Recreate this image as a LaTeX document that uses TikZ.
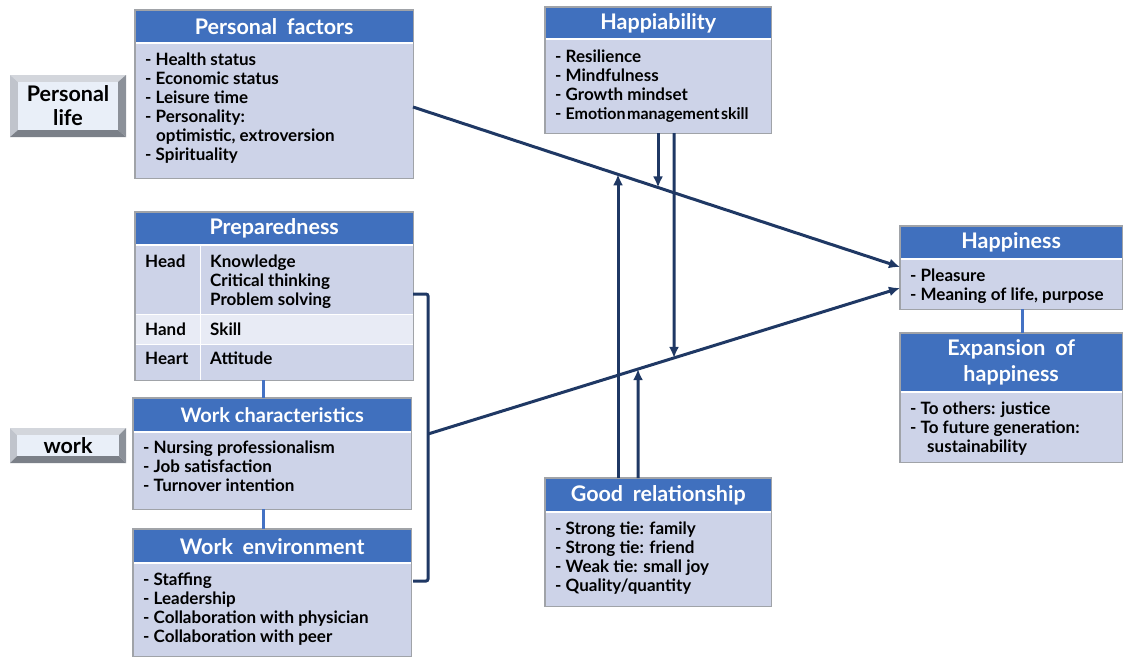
\documentclass[tikz,border=0pt]{standalone}
\usepackage{fontspec}
\setmainfont{Lato}
\usetikzlibrary{arrows.meta}
\definecolor{hblue}{HTML}{4070BE}
\definecolor{bodyc}{HTML}{CDD3E8}
\definecolor{handc}{HTML}{E8EBF5}
\definecolor{boxgray}{HTML}{A0A3A8}
\definecolor{navy}{HTML}{1F3864}
\definecolor{cblue}{HTML}{4472C4}
\definecolor{btop}{HTML}{D3D6DC}
\definecolor{bleft}{HTML}{C0C4CC}
\definecolor{bright}{HTML}{8C9199}
\definecolor{bbot}{HTML}{7B8088}
\definecolor{bface}{HTML}{E9EFF8}
\newcommand\hdrfont{\fontsize{21.5}{26}\selectfont\bfseries}
\newcommand\bodyfont{\fontsize{17}{19}\selectfont\bfseries}
\newcommand\wsp{\hspace{0.45em}}
\begin{document}
\begin{tikzpicture}[x=1pt,y=-1pt,
  hdr/.style={fill=hblue, text=white, font=\hdrfont, anchor=north west, inner sep=0pt, align=center},
  bdy/.style={fill=bodyc, anchor=north west, inner sep=0pt},
  txt/.style={anchor=north west, inner sep=0pt, align=left, font=\bodyfont, text=black},
  frame/.style={draw=boxgray, line width=1.2pt},
  sep/.style={draw=white, line width=2pt},
  arr/.style={draw=navy, line width=3pt, -{Latex[length=11pt,width=10pt]}},
  brk/.style={draw=navy, line width=3pt, rounded corners=2pt},
  link/.style={draw=cblue, line width=3pt},
  btxt/.style={font=\fontsize{21.5}{24}\selectfont\bfseries, align=center, inner sep=0pt}
]
\useasboundingbox (0,0) rectangle (1124,657);

% ---------- buttons ----------
\fill[btop] (10,75) -- (126,75) -- (118,82) -- (18,82) -- cycle;
\fill[bleft] (10,75) -- (18,82) -- (18,130) -- (10,137) -- cycle;
\fill[bright] (126,75) -- (126,137) -- (118,130) -- (118,82) -- cycle;
\fill[bbot] (10,137) -- (126,137) -- (118,130) -- (18,130) -- cycle;
\fill[bface] (18,82) rectangle (118,130);
\node[btxt] (plife) at (68,106) {Personal\\life};

\fill[btop] (10,428) -- (126,428) -- (119,435) -- (17,435) -- cycle;
\fill[bleft] (10,428) -- (17,435) -- (17,456) -- (10,463) -- cycle;
\fill[bright] (126,428) -- (126,463) -- (119,456) -- (119,435) -- cycle;
\fill[bbot] (10,463) -- (126,463) -- (119,456) -- (17,456) -- cycle;
\fill[bface] (17,435) rectangle (119,456);
\node[btxt] (work) at (68,446) {work};

% ---------- Personal factors ----------
\node[bdy, minimum width=278pt, minimum height=135pt] (pfb) at (135,43) {};
\node[hdr, minimum width=278pt, minimum height=33pt] (pfh) at (135,10) {Personal\wsp factors};
\draw[sep] (pfh.south west) -- (pfh.south east);
\draw[frame] (pfh.north west) rectangle (pfb.south east);
\node[txt] (pft) at (145,53) {- Health status\\- Economic status\\- Leisure time\\- Personality:\\\hspace*{11pt}optimistic, extroversion\\- Spirituality};

% ---------- Preparedness ----------
\node[hdr, minimum width=278pt, minimum height=33pt] (prh) at (135,212) {Preparedness};
\node[bdy, minimum width=278pt, minimum height=69pt] (prhead) at (135,245) {};
\node[bdy, fill=handc, minimum width=278pt, minimum height=30pt] (prhand) at (135,314) {};
\node[bdy, minimum width=278pt, minimum height=36pt] (prheart) at (135,344) {};
\draw[white, line width=1pt] (200,245) -- (200,380);
\draw[white, line width=1pt] (prhand.north west) -- (prhand.north east);
\draw[white, line width=1pt] (prheart.north west) -- (prheart.north east);
\draw[sep] (prh.south west) -- (prh.south east);
\draw[frame] (prh.north west) rectangle (prheart.south east);
\node[txt] (t1) at (145,255) {Head};
\node[txt] (t2) at (210,255) {Knowledge\\Critical thinking\\Problem solving};
\node[txt] (t3) at (145,323) {Hand};
\node[txt] (t4) at (210,323) {Skill};
\node[txt] (t5) at (145,352) {Heart};
\node[txt] (t6) at (210,352) {Attitude};

% ---------- Work characteristics ----------
\node[bdy, minimum width=278pt, minimum height=77pt] (wcb) at (133,432) {};
\node[hdr, font=\fontsize{20}{24}\selectfont\bfseries, minimum width=278pt, minimum height=34pt] (wch) at (133,398) {Work characteristics};
\draw[sep] (wch.south west) -- (wch.south east);
\draw[frame] (wch.north west) rectangle (wcb.south east);
\node[txt] (wct) at (143,441) {- Nursing professionalism\\- Job satisfaction\\- Turnover intention};

% ---------- Work environment ----------
\node[bdy, minimum width=278pt, minimum height=93pt] (web) at (133,563) {};
\node[hdr, minimum width=278pt, minimum height=34pt] (weh) at (133,529) {Work\wsp environment};
\draw[sep] (weh.south west) -- (weh.south east);
\draw[frame] (weh.north west) rectangle (web.south east);
\node[txt] (wet) at (143,573) {- Staffing\\- Leadership\\- Collaboration with physician\\- Collaboration with peer};

% ---------- Happiability ----------
\node[bdy, minimum width=226pt, minimum height=94pt] (hab) at (545,39) {};
\node[hdr, minimum width=226pt, minimum height=32pt] (hah) at (545,7) {Happiability};
\draw[sep] (hah.south west) -- (hah.south east);
\draw[frame] (hah.north west) rectangle (hab.south east);
\node[txt] (hat) at (555,50) {- Resilience\\- Mindfulness\\- Growth mindset\\- {\fontsize{16}{19}\selectfont Emotion\hspace{1.5pt}management\hspace{1.5pt}skill}};

% ---------- Good relationship ----------
\node[bdy, minimum width=226pt, minimum height=94pt] (grb) at (545,512) {};
\node[hdr, minimum width=226pt, minimum height=34pt] (grh) at (545,478) {Good\wsp relationship};
\draw[sep] (grh.south west) -- (grh.south east);
\draw[frame] (grh.north west) rectangle (grb.south east);
\node[txt] (grt) at (555,522) {- Strong tie: family\\- Strong tie: friend\\- Weak tie: small joy\\- Quality/quantity};

% ---------- Happiness ----------
\node[bdy, minimum width=222pt, minimum height=50pt] (hpb) at (900,259) {};
\node[hdr, minimum width=222pt, minimum height=33pt] (hph) at (900,226) {Happiness};
\draw[sep] (hph.south west) -- (hph.south east);
\draw[frame] (hph.north west) rectangle (hpb.south east);
\node[txt] (hpt) at (910,269) {- Pleasure\\- Meaning of life, purpose};

% ---------- Expansion ----------
\node[bdy, minimum width=222pt, minimum height=70pt] (exb) at (900,392) {};
\node[hdr, minimum width=222pt, minimum height=59pt] (exh) at (900,333) {Expansion\wsp of\\happiness};
\draw[sep] (exh.south west) -- (exh.south east);
\draw[frame] (exh.north west) rectangle (exb.south east);
\node[txt] (ext) at (910,402) {- To others: justice\\- To future generation:\\\hspace*{17pt}sustainability};

% ---------- thin links ----------
\draw[link] (prheart.south -| 263,0) -- (wch.north -| 263,0);
\draw[link] (wcb.south -| 263,0) -- (weh.north -| 263,0);
\draw[link] (hpb.south -| 1022,0) -- (exh.north -| 1022,0);

% ---------- bracket ----------
\coordinate (b1) at (413,294);
\coordinate (b2) at (428,294);
\coordinate (bm) at (428,434);
\coordinate (b3) at (428,581);
\coordinate (b4) at (413,581);
\draw[brk] (b1) -- (b2) -- (b3) -- (b4);

% ---------- main arrows ----------
\coordinate (pfo) at (413,107);
\coordinate (hpin1) at (900,267);
\coordinate (hpin2) at (900,288);
\draw[arr] (pfo) -- (hpin1);
\draw[arr] (bm) -- (hpin2);

% ---------- vertical arrows ----------
\coordinate (g1) at (618,478);
\coordinate (g2) at (638,478);
\coordinate (h1) at (658,133);
\coordinate (h2) at (674,133);
\draw[arr] (g1) -- (intersection of g1--618,0 and pfo--hpin1);
\draw[arr] (g2) -- (intersection of g2--638,0 and bm--hpin2);
\draw[arr] (h1) -- (intersection of h1--658,600 and pfo--hpin1);
\draw[arr] (h2) -- (intersection of h2--674,600 and bm--hpin2);
\end{tikzpicture}
\end{document}
